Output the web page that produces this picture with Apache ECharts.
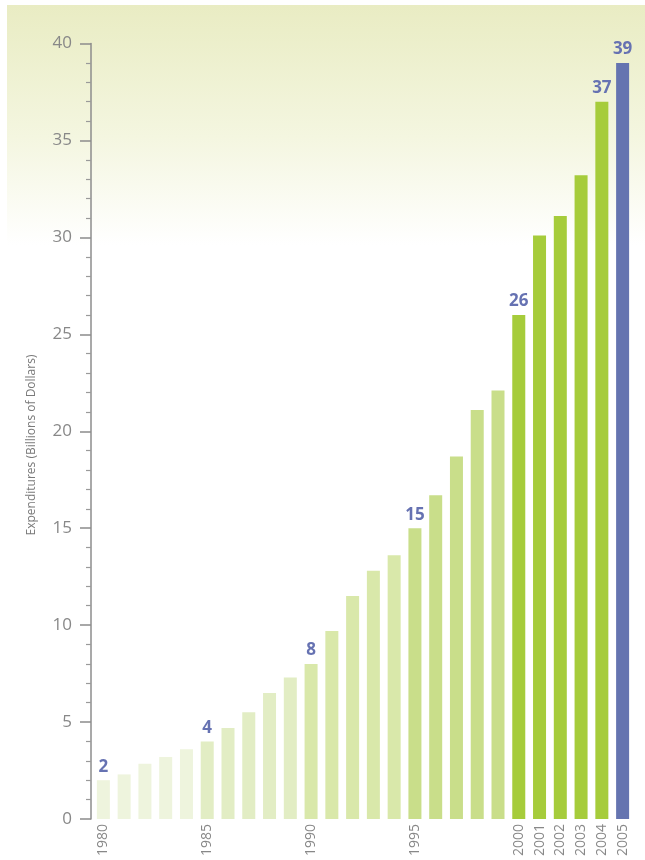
<!DOCTYPE html>
<html>
<head>
<meta charset="utf-8">
<style>
  html, body { margin: 0; padding: 0; background: #ffffff; }
  #chart { width: 645px; height: 860px; }
</style>
<script src="https://cdn.jsdelivr.net/npm/echarts@6/dist/echarts.min.js"></script>
</head>
<body>
<div id="chart"></div>
<script>
// Annual R&D expenditures, billions of dollars
const years = ['1980','1981','1982','1983','1984','1985','1986','1987','1988','1989',
               '1990','1991','1992','1993','1994','1995','1996','1997','1998','1999',
               '2000','2001','2002','2003','2004','2005'];
const expenditures = [2, 2.3, 2.85, 3.2, 3.6, 4, 4.7, 5.5, 6.5, 7.3,
                      8, 9.7, 11.5, 12.8, 13.6, 15, 16.7, 18.7, 21.1, 22.1,
                      26, 30.1, 31.1, 33.2, 37, 39];
// Years whose value is printed above the bar
const labeledYears = ['1980','1985','1990','1995','2000','2004','2005'];
// Years shown on the horizontal axis
const xTickLabels = ['1980','1985','1990','1995','2000','2001','2002','2003','2004','2005'];
const yTickValues = [0, 5, 10, 15, 20, 25, 30, 35, 40];

// Bars get greener in five-year steps; the latest year is highlighted
function barColor(year) {
  const y = +year;
  if (y === 2005) return '#6574b0';
  if (y >= 2000) return '#a6cc3b';
  if (y >= 1995) return '#c9de8a';
  if (y >= 1990) return '#d9e8aa';
  if (y >= 1985) return '#e2edc4';
  return '#eef4dd';
}

const chart = echarts.init(document.getElementById('chart'), null, { renderer: 'canvas' });

chart.setOption({
  backgroundColor: '#ffffff',
  animation: false,
  graphic: [
    {
      type: 'rect',
      z: -10,
      silent: true,
      shape: { x: 7, y: 5, width: 638, height: 240 },
      style: {
        fill: new echarts.graphic.LinearGradient(0, 0, 0, 1, [
          { offset: 0, color: '#e9ecc3' },
          { offset: 0.55, color: '#f4f6e0' },
          { offset: 1, color: '#ffffff' }
        ])
      }
    },
    {
      type: 'text',
      x: 32,
      y: 445,
      rotation: Math.PI / 2,
      style: {
        text: 'Expenditures (Billions of Dollars)',
        fill: '#7a7a7a',
        font: '12px "Open Sans", "Noto Sans", sans-serif',
        textAlign: 'center',
        textVerticalAlign: 'middle'
      }
    }
  ],
  grid: { left: 93, right: 12, top: 43.5, bottom: 41, containLabel: false },
  xAxis: {
    type: 'category',
    data: years,
    boundaryGap: true,
    axisLine: { show: false },
    axisTick: { show: false },
    axisLabel: {
      rotate: 90,
      margin: 5,
      color: '#888888',
      fontFamily: '"Open Sans", "Noto Sans", sans-serif',
      fontSize: 14,
      interval: 0,
      formatter: v => xTickLabels.includes(v) ? v : ''
    }
  },
  yAxis: {
    type: 'value',
    min: 0,
    max: 40,
    interval: 5,
    offset: 2,
    axisLine: { show: true, lineStyle: { color: '#8c8c8c', width: 1.5 } },
    axisTick: { show: true, length: 11, lineStyle: { color: '#8c8c8c', width: 1.5 } },
    minorTick: { show: true, splitNumber: 5, length: 5, lineStyle: { color: '#9a9a9a', width: 1.2 } },
    splitLine: { show: false },
    axisLabel: {
      margin: 19,
      color: '#888888',
      fontFamily: '"Open Sans", "Noto Sans", sans-serif',
      fontSize: 17,
      formatter: v => yTickValues.includes(v) ? String(v) : ''
    }
  },
  series: [{
    type: 'bar',
    data: expenditures.map((v, i) => ({
      value: v,
      itemStyle: { color: barColor(years[i]) }
    })),
    barWidth: 13,
    label: {
      show: true,
      position: 'top',
      distance: 5,
      color: '#6672b2',
      fontFamily: '"Open Sans", "Noto Sans", sans-serif',
      fontWeight: 'bold',
      fontSize: 17,
      formatter: p => labeledYears.includes(p.name) ? String(p.value) : ''
    }
  }]
});
</script>
</body>
</html>
